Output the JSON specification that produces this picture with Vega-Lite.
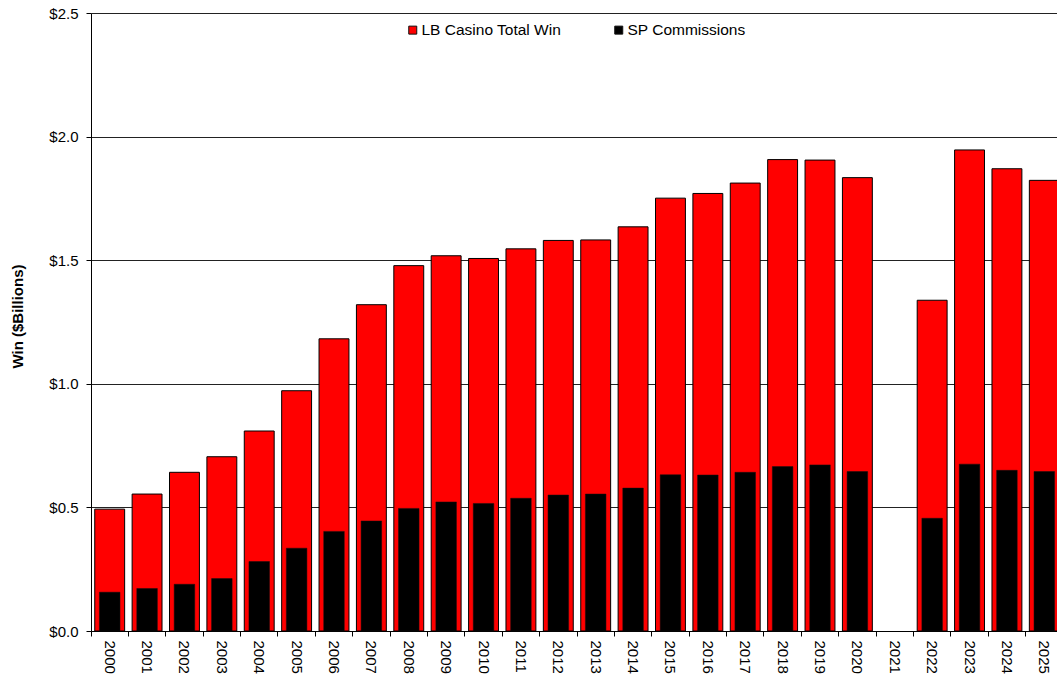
{
  "$schema": "https://vega.github.io/schema/vega-lite/v6.json",
  "width": 972,
  "height": 618,
  "autosize": {"type": "none"},
  "padding": {"left": 91, "top": 13, "right": 0, "bottom": 48},
  "background": "white",
  "config": {
    "view": {"stroke": null},
    "font": "Liberation Sans",
    "axis": {"labelFont": "Liberation Sans", "titleFont": "Liberation Sans", "labelColor": "#000", "titleColor": "#000"}
  },
  "data": {
    "values": [
      {"year": "2000", "series": "LB Casino Total Win", "value": 0.493},
      {"year": "2001", "series": "LB Casino Total Win", "value": 0.554},
      {"year": "2002", "series": "LB Casino Total Win", "value": 0.642},
      {"year": "2003", "series": "LB Casino Total Win", "value": 0.705},
      {"year": "2004", "series": "LB Casino Total Win", "value": 0.809},
      {"year": "2005", "series": "LB Casino Total Win", "value": 0.972},
      {"year": "2006", "series": "LB Casino Total Win", "value": 1.182},
      {"year": "2007", "series": "LB Casino Total Win", "value": 1.32},
      {"year": "2008", "series": "LB Casino Total Win", "value": 1.478},
      {"year": "2009", "series": "LB Casino Total Win", "value": 1.518},
      {"year": "2010", "series": "LB Casino Total Win", "value": 1.507},
      {"year": "2011", "series": "LB Casino Total Win", "value": 1.546},
      {"year": "2012", "series": "LB Casino Total Win", "value": 1.58},
      {"year": "2013", "series": "LB Casino Total Win", "value": 1.582},
      {"year": "2014", "series": "LB Casino Total Win", "value": 1.635},
      {"year": "2015", "series": "LB Casino Total Win", "value": 1.751},
      {"year": "2016", "series": "LB Casino Total Win", "value": 1.77},
      {"year": "2017", "series": "LB Casino Total Win", "value": 1.812},
      {"year": "2018", "series": "LB Casino Total Win", "value": 1.907},
      {"year": "2019", "series": "LB Casino Total Win", "value": 1.905},
      {"year": "2020", "series": "LB Casino Total Win", "value": 1.834},
      {"year": "2022", "series": "LB Casino Total Win", "value": 1.338},
      {"year": "2023", "series": "LB Casino Total Win", "value": 1.946},
      {"year": "2024", "series": "LB Casino Total Win", "value": 1.87},
      {"year": "2025", "series": "LB Casino Total Win", "value": 1.823},
      {"year": "2000", "series": "SP Commissions", "value": 0.157},
      {"year": "2001", "series": "SP Commissions", "value": 0.172},
      {"year": "2002", "series": "SP Commissions", "value": 0.189},
      {"year": "2003", "series": "SP Commissions", "value": 0.212},
      {"year": "2004", "series": "SP Commissions", "value": 0.281},
      {"year": "2005", "series": "SP Commissions", "value": 0.335},
      {"year": "2006", "series": "SP Commissions", "value": 0.403},
      {"year": "2007", "series": "SP Commissions", "value": 0.445},
      {"year": "2008", "series": "SP Commissions", "value": 0.496},
      {"year": "2009", "series": "SP Commissions", "value": 0.522},
      {"year": "2010", "series": "SP Commissions", "value": 0.516},
      {"year": "2011", "series": "SP Commissions", "value": 0.537},
      {"year": "2012", "series": "SP Commissions", "value": 0.55},
      {"year": "2013", "series": "SP Commissions", "value": 0.554},
      {"year": "2014", "series": "SP Commissions", "value": 0.578},
      {"year": "2015", "series": "SP Commissions", "value": 0.632},
      {"year": "2016", "series": "SP Commissions", "value": 0.631},
      {"year": "2017", "series": "SP Commissions", "value": 0.642},
      {"year": "2018", "series": "SP Commissions", "value": 0.665},
      {"year": "2019", "series": "SP Commissions", "value": 0.672},
      {"year": "2020", "series": "SP Commissions", "value": 0.645},
      {"year": "2022", "series": "SP Commissions", "value": 0.456},
      {"year": "2023", "series": "SP Commissions", "value": 0.675},
      {"year": "2024", "series": "SP Commissions", "value": 0.65},
      {"year": "2025", "series": "SP Commissions", "value": 0.645}
    ]
  },
  "encoding": {
    "y": {
      "field": "value",
      "type": "quantitative",
      "scale": {"domain": [0, 2.5], "nice": false, "zero": true},
      "axis": {
        "title": "Win ($Billions)",
        "titleFontWeight": "bold",
        "titleFontSize": 15,
        "titleX": -74,
        "titleY": 303,
        "titleAngle": -90,
        "titleAlign": "center",
        "titleBaseline": "middle",
        "values": [0, 0.5, 1, 1.5, 2, 2.5],
        "format": "$.1f",
        "labelFontSize": 15,
        "labelPadding": 8,
        "tickSize": 5,
        "tickColor": "#000",
        "domainColor": "#000",
        "grid": true,
        "gridColor": "#222",
        "gridOpacity": 1,
        "gridWidth": 1
      }
    }
  },
  "layer": [
    {
      "transform": [{"filter": "datum.series === 'LB Casino Total Win'"}],
      "mark": {"type": "bar", "width": {"band": 0.8}, "stroke": "#000", "strokeWidth": 1},
      "encoding": {
        "x": {
          "field": "year",
          "type": "ordinal",
          "scale": {"domain": ["2000","2001","2002","2003","2004","2005","2006","2007","2008","2009","2010","2011","2012","2013","2014","2015","2016","2017","2018","2019","2020","2021","2022","2023","2024","2025"], "paddingInner": 0, "paddingOuter": 0},
          "axis": {
            "orient": "bottom",
            "title": null,
            "labelAngle": 90,
            "labelAlign": "left",
            "labelBaseline": "middle",
            "labelFontSize": 15,
            "labelPadding": 9,
            "ticks": false,
            "domain": true,
            "domainColor": "#000",
            "grid": false
          }
        },
        "color": {
          "field": "series",
          "type": "nominal",
          "scale": {"domain": ["LB Casino Total Win", "SP Commissions"], "range": ["#FF0000", "#000000"]},
          "legend": {
            "title": null,
            "orient": "none",
            "legendX": 314,
            "legendY": 9,
            "direction": "horizontal",
            "symbolType": "square",
            "symbolSize": 64,
            "symbolStrokeColor": "#000",
            "symbolStrokeWidth": 1,
            "symbolOpacity": 1,
            "labelFontSize": 15.5,
            "labelFont": "Liberation Sans",
            "labelColor": "#000",
            "labelOffset": 1,
            "columnPadding": 49,
            "labelLimit": 300
          }
        }
      }
    },
    {
      "transform": [{"filter": "datum.series === 'SP Commissions'"}],
      "mark": {"type": "bar", "width": {"band": 0.55}, "stroke": "#111", "strokeWidth": 0.5},
      "encoding": {
        "x": {
          "field": "year",
          "type": "ordinal",
          "axis": {
            "orient": "bottom",
            "title": null,
            "labels": false,
            "ticks": true,
            "tickSize": 5,
            "tickColor": "#000",
            "bandPosition": 0,
            "domain": false,
            "grid": false
          }
        },
        "color": {"field": "series", "type": "nominal"}
      }
    }
  ],
  "resolve": {"axis": {"x": "independent"}}
}
